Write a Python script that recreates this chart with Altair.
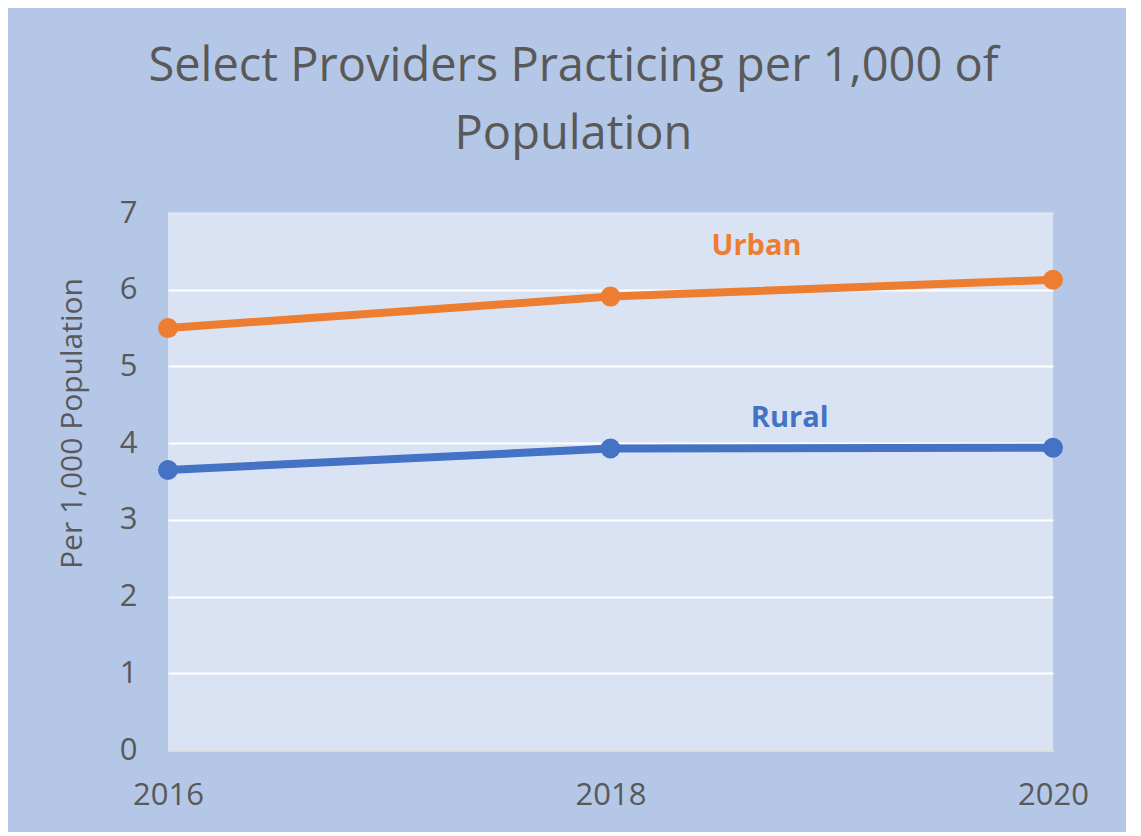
import altair as alt
import pandas as pd

years = [2016, 2018, 2020]
urban = [5.50, 5.91, 6.13]
rural = [3.65, 3.93, 3.94]

series_names = ["Urban", "Rural"]
series_colors = ["#ED7D31", "#4472C4"]
label_x = [2018.66, 2018.81]
label_y = [6.57, 4.33]

rows = []
for y, u, r in zip(years, urban, rural):
    rows.append({"year": y, "value": u, "series": "Urban"})
    rows.append({"year": y, "value": r, "series": "Rural"})
df = pd.DataFrame(rows)
labels = pd.DataFrame({"series": series_names, "x": label_x, "y": label_y})

FONT = "Open Sans"
GRAY = "#595959"

xscale = alt.Scale(domain=[2016, 2020], nice=False, zero=False)
yscale = alt.Scale(domain=[0, 7], nice=False)
color = alt.Color("series:N", scale=alt.Scale(domain=series_names, range=series_colors), legend=None)

x_enc = alt.X("year:Q", scale=xscale, axis=alt.Axis(
    values=years, format="d", title=None, grid=False, ticks=False,
    domain=True, domainColor="#D9D9D9", domainWidth=2,
    labelFontSize=31, labelColor=GRAY, labelFont=FONT, labelPadding=30,
    labelFlush=False))
y_enc = alt.Y("value:Q", scale=yscale, axis=alt.Axis(
    values=[0, 1, 2, 3, 4, 5, 6, 7], format="d", title="Per 1,000 Population",
    titleFontSize=30, titleFont=FONT, titleColor=GRAY, titleFontWeight="normal",
    titleX=-96, titleY=210, titleAlign="center", titleBaseline="middle", titleAngle=270,
    grid=True,
    gridColor=alt.condition("datum.value == 7", alt.value("#E2E9F6"), alt.value("#FFFFFF")),
    gridWidth=2, ticks=False, domain=False,
    labelFontSize=31, labelColor=GRAY, labelFont=FONT, labelPadding=31))

lines = alt.Chart(df).mark_line(strokeWidth=8).encode(x=x_enc, y=y_enc, color=color)
points = alt.Chart(df).mark_point(filled=True, size=400, opacity=1).encode(
    x="year:Q", y="value:Q", color=color)
text = alt.Chart(labels).mark_text(fontSize=29, fontWeight="bold", font=FONT).encode(
    x=alt.X("x:Q", scale=xscale), y=alt.Y("y:Q", scale=yscale),
    text="series:N", color=color)

chart = alt.layer(lines, points, text).properties(
    width=885, height=537,
    background="#B4C7E7",
    autosize=alt.AutoSizeParams(type="none"),
    padding={"left": 160, "top": 205, "right": 73, "bottom": 82},
    title=alt.TitleParams(
        text=["Select Providers Practicing per 1,000 of", "Population"],
        fontSize=47, font=FONT, color=GRAY, fontWeight="normal",
        anchor="middle", dx=-37, offset=38, lineHeight=68),
).configure_view(fill="#DAE3F3", stroke=None)

chart.save("out.html", embed_options={"renderer": "svg", "actions": False})
